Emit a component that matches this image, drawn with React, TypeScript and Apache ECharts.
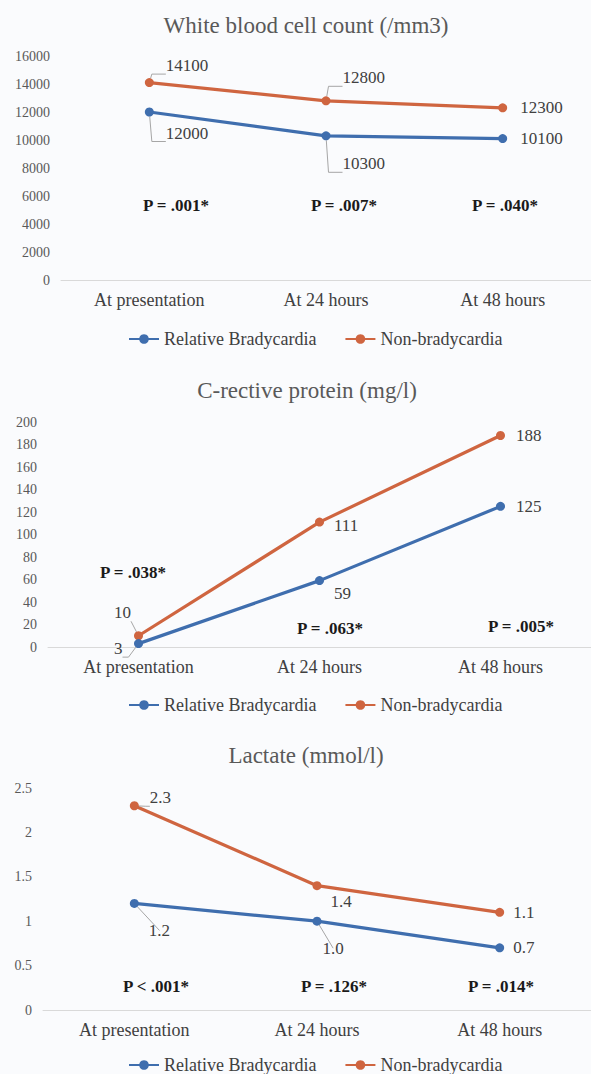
import React, { useEffect, useRef } from 'react';
import * as echarts from 'echarts';

// ---------- data ----------
const categories = ['At presentation', 'At 24 hours', 'At 48 hours'];
const seriesNames = ['Relative Bradycardia', 'Non-bradycardia'];

const titles = ['White blood cell count (/mm3)', 'C-rective protein (mg/l)', 'Lactate (mmol/l)'];

const wbcBrady = [12000, 10300, 10100];
const wbcNon = [14100, 12800, 12300];
const crpBrady = [3, 59, 125];
const crpNon = [10, 111, 188];
const lacBrady = [1.2, 1.0, 0.7];
const lacNon = [2.3, 1.4, 1.1];

const wbcP = ['P = .001*', 'P = .007*', 'P = .040*'];
const crpP = ['P = .038*', 'P = .063*', 'P = .005*'];
const lacP = ['P < .001*', 'P = .126*', 'P = .014*'];

const yMax = [16000, 200, 2.5];
const yStep = [2000, 20, 0.5];
const decimals = [0, 0, 1];

// ---------- layout / style ----------
const FONT = 'Liberation Serif, Times New Roman, serif';
const BLUE = '#3F6EAE';
const ORANGE = '#CF6540';
const LEADER = '#a6a6a6';

type Lab = { ox: number; oy: number; len2?: number };

const panels = [
  {
    grid: { left: 61, top: 56, width: 533, height: 224 },
    title: { x: 306, y: 25 },
    legendTop: 325,
    pPos: [[176, 205], [344, 205], [505, 205]],
    brady: wbcBrady, non: wbcNon, pvals: wbcP,
    bradyLab: [{ ox: 12, oy: 21, len2: 14 }, { ox: 12, oy: 28, len2: 14 }, { ox: 13, oy: 0 }] as Lab[],
    nonLab: [{ ox: 12, oy: -17, len2: 14 }, { ox: 12, oy: -23, len2: 14 }, { ox: 13, oy: 0 }] as Lab[],
  },
  {
    grid: { left: 48, top: 422, width: 546, height: 225 },
    title: { x: 307, y: 390 },
    legendTop: 691,
    pPos: [[133, 572], [330, 628], [521, 626]],
    brady: crpBrady, non: crpNon, pvals: crpP,
    bradyLab: [{ ox: -29, oy: 5, len2: 6 }, { ox: 10, oy: 13 }, { ox: 11, oy: 0 }] as Lab[],
    nonLab: [{ ox: -29, oy: -23, len2: 0 }, { ox: 10, oy: 3 }, { ox: 11, oy: 0 }] as Lab[],
  },
  {
    grid: { left: 43, top: 788, width: 552, height: 222 },
    title: { x: 306, y: 755 },
    legendTop: 1051,
    pPos: [[156, 986], [334, 986], [501, 986]],
    brady: lacBrady, non: lacNon, pvals: lacP,
    bradyLab: [{ ox: 10, oy: 27, len2: 0 }, { ox: 1, oy: 27, len2: 0 }, { ox: 9, oy: 0 }] as Lab[],
    nonLab: [{ ox: 11, oy: -8, len2: 4 }, { ox: 9, oy: 16 }, { ox: 9, oy: 0 }] as Lab[],
  },
];

function makeData(values: number[], labs: Lab[], dec: number) {
  return values.map((v, j) => {
    const lab = labs[j];
    return {
      value: v,
      label: {
        show: true,
        position: 'right',
        distance: 0,
        offset: [lab.ox, lab.oy],
        formatter: () => (dec ? v.toFixed(dec) : String(v)),
        fontFamily: FONT,
        fontSize: 17,
        color: '#404040',
      },
      labelLine:
        lab.len2 != null
          ? { show: true, length2: lab.len2, smooth: false, minTurnAngle: 0, lineStyle: { color: LEADER, width: 1 } }
          : { show: false },
    };
  });
}

export default function App() {
  const ref = useRef<HTMLDivElement>(null);

  useEffect(() => {
    if (!ref.current) return;
    const chart = echarts.init(ref.current, undefined, { renderer: 'svg' });

    const series: any[] = [];
    panels.forEach((p, i) => {
      series.push({
        name: seriesNames[1],
        type: 'line',
        xAxisIndex: i,
        yAxisIndex: i,
        data: makeData(p.non, p.nonLab, decimals[i]),
        symbol: 'circle',
        symbolSize: 9,
        itemStyle: { color: ORANGE },
        lineStyle: { color: ORANGE, width: 3.2 },
        emphasis: { disabled: true },
        z: 2,
      });
      series.push({
        name: seriesNames[0],
        type: 'line',
        xAxisIndex: i,
        yAxisIndex: i,
        data: makeData(p.brady, p.bradyLab, decimals[i]),
        symbol: 'circle',
        symbolSize: 9,
        itemStyle: { color: BLUE },
        lineStyle: { color: BLUE, width: 3.2 },
        emphasis: { disabled: true },
        z: 3,
      });
    });

    const graphics: any[] = [];
    panels.forEach((p, i) => {
      graphics.push({
        type: 'text',
        x: p.title.x,
        y: p.title.y,
        style: {
          text: titles[i],
          align: 'center',
          verticalAlign: 'middle',
          fontFamily: FONT,
          fontSize: 23,
          fill: '#595959',
        },
      });
      p.pvals.forEach((t, j) => {
        graphics.push({
          type: 'text',
          x: p.pPos[j][0],
          y: p.pPos[j][1],
          style: {
            text: t,
            align: 'center',
            verticalAlign: 'middle',
            fontFamily: FONT,
            fontSize: 17,
            fontWeight: 'bold',
            fill: '#1a1a1a',
          },
        });
      });
    });

    chart.setOption({
      animation: false,
      backgroundColor: '#fafbfd',
      textStyle: { fontFamily: FONT },
      grid: panels.map((p) => ({ ...p.grid })),
      xAxis: panels.map((_, i) => ({
        type: 'category',
        gridIndex: i,
        data: categories,
        boundaryGap: true,
        axisLine: { show: true, lineStyle: { color: '#d9d9d9', width: 1 } },
        axisTick: { show: false },
        axisLabel: { fontFamily: FONT, fontSize: 18, color: '#404040', margin: 11 },
        splitLine: { show: false },
      })),
      yAxis: panels.map((_, i) => ({
        type: 'value',
        gridIndex: i,
        min: 0,
        max: yMax[i],
        interval: yStep[i],
        axisLine: { show: false },
        axisTick: { show: false },
        splitLine: { show: false },
        axisLabel: {
          fontFamily: FONT,
          fontSize: 14,
          color: '#595959',
          margin: 11,
          formatter: (v: number) => String(v),
        },
      })),
      legend: panels.map((p) => ({
        top: p.legendTop,
        left: 123,
        itemWidth: 30,
        itemHeight: 12,
        itemGap: 28,
        selectedMode: false,
        data: seriesNames,
        textStyle: { fontFamily: FONT, fontSize: 18, color: '#404040' },
      })),
      series,
      graphic: graphics,
    });

    return () => chart.dispose();
  }, []);

  return (
    <div
      ref={ref}
      style={{ position: 'absolute', left: 0, top: 0, width: 591, height: 1074 }}
    />
  );
}
